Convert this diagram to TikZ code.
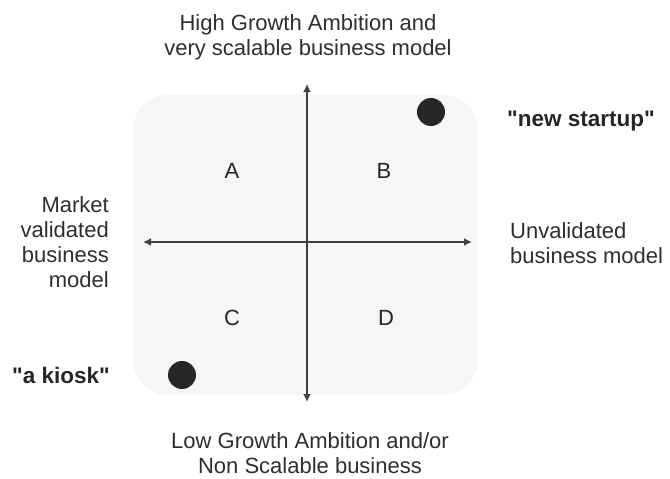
\documentclass[tikz,border=0pt]{standalone}
\usepackage{fontspec}
\setmainfont{Liberation Sans}
\definecolor{axisgray}{HTML}{404040}
\definecolor{dotgray}{HTML}{262626}
\definecolor{panelgray}{HTML}{F6F6F6}
\usetikzlibrary{arrows.meta}

\begin{document}
\begin{tikzpicture}[x=1pt,y=-1pt,
  axis/.style={draw=axisgray,line width=2pt,{Latex[length=8pt,width=8pt]}-{Latex[length=8pt,width=8pt]}},
  quad/.style={font=\fontsize{22}{25}\selectfont,text=black!85},
  side/.style={font=\fontsize{22}{25}\selectfont,text=black!82,align=center,inner sep=0pt},
  tag/.style={font=\bfseries\fontsize{22.5}{25}\selectfont,text=black!85,inner sep=0pt}]
  \useasboundingbox (0,0) rectangle (670,479);
  % panel
  \fill[panelgray,rounded corners=35pt] (133,95) rectangle (478,395);
  % axes
  \coordinate (top) at (307,84);
  \coordinate (bottom) at (307,402);
  \coordinate (left) at (143,242);
  \coordinate (right) at (472,242);
  \draw[axis] (bottom) -- (top);
  \draw[axis] (left) -- (right);
  % quadrants
  \node[quad] (qa) at (232,171) {A};
  \node[quad] (qb) at (384,171) {B};
  \node[quad] (qc) at (232,318) {C};
  \node[quad] (qd) at (386,318) {D};
  % axis ends
  \node[side,anchor=north] (high) at (308,14) {High Growth Ambition and\\very scalable business model};
  \node[side,anchor=north] (low) at (310,432) {Low Growth Ambition and/or\\Non Scalable business};
  \node[side,align=right,anchor=north east] (market) at (109,196) {Market\\validated\\business\\model};
  \node[side,align=left,anchor=north west] (unval) at (510,222) {Unvalidated\\business model};
  % examples
  \fill[dotgray] (431,112) circle (14);
  \node[tag,anchor=base west] (startup) at (507,126) {\textquotedbl new startup\textquotedbl};
  \fill[dotgray] (182,375) circle (14);
  \node[tag,anchor=base east] (kiosk) at (110,383) {\textquotedbl a kiosk\textquotedbl};
\end{tikzpicture}
\end{document}
